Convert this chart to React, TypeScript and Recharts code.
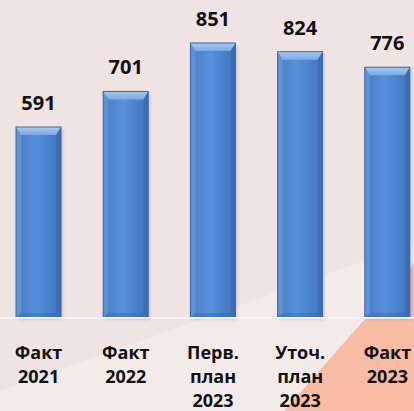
import React from 'react';
import { BarChart, Bar, XAxis, YAxis, LabelList } from 'recharts';

const categories = ['Факт\n2021', 'Факт\n2022', 'Перв.\nплан\n2023', 'Уточ.\nплан\n2023', 'Факт\n2023'];
const values = [591, 701, 851, 824, 776];

const FONT = '"Open Sans", "Liberation Sans", sans-serif';

// bevelled blue column, like the original office chart
function BevelBar(props: any) {
    const { x, y, width, height } = props;
    if (!height || height <= 0) return null;
    const b = 8;
    const s = 5;
    const bottom = y + height;
    return (
        <g>
            <rect x={x + 2} y={y + 2} width={width} height={height} fill="#000" opacity={0.12} filter="url(#barBlur)" />
            <rect x={x} y={y} width={width} height={height} fill="url(#barBody)" />
            <polygon points={`${x},${y} ${x + s},${y + b} ${x + s},${bottom - s} ${x},${bottom}`} fill="#78a6e4" opacity={0.45} />
            <polygon points={`${x + width},${y} ${x + width - s},${y + b} ${x + width - s},${bottom - s} ${x + width},${bottom}`} fill="#2f5a96" opacity={0.3} />
            <polygon points={`${x},${bottom} ${x + s},${bottom - s} ${x + width - s},${bottom - s} ${x + width},${bottom}`} fill="#2f5a96" opacity={0.3} />
            <polygon points={`${x},${y} ${x + width},${y} ${x + width - s},${y + b} ${x + s},${y + b}`} fill="url(#barTop)" />
            <rect x={x} y={y} width={width} height={height} fill="none" stroke="#3a67a8" strokeWidth={1} />
        </g>
    );
}

function CategoryTick(props: any) {
    const { x, y, payload } = props;
    const lines = String(payload.value).split('\n');
    return (
        <g>
            {lines.map((line, i) => (
                <text
                    key={i}
                    x={x}
                    y={y + 33 + i * 24}
                    textAnchor="middle"
                    fontFamily={FONT}
                    fontWeight={700}
                    fontSize={18}
                    fill="#111"
                >
                    {line}
                </text>
            ))}
        </g>
    );
}

function ValueLabel(props: any) {
    const { x, y, width, value } = props;
    return (
        <text x={x + width / 2} y={y - 17} textAnchor="middle" fontFamily={FONT} fontWeight={700} fontSize={20} fill="#111">
            {value}
        </text>
    );
}

export default function App() {
    const data = categories.map((name, i) => ({ name, value: values[i] }));

    return (
        <div style={{ position: 'absolute', left: 0, top: 0, width: 414, height: 411, overflow: 'hidden', background: '#efe3e3' }}>
            <svg width={414} height={411} style={{ position: 'absolute', left: 0, top: 0 }}>
                <polygon points="0,391 414,243 414,411 0,411" fill="#f3ebea" />
                <polygon points="284,411 414,263 414,411" fill="#f8bba3" />
            </svg>
            <div style={{ position: 'absolute', left: -5, top: 0 }}>
                <BarChart width={436} height={411} data={data} margin={{ top: 0, right: 0, bottom: 0, left: 0 }} barSize={45}>
                    <defs>
                        <linearGradient id="barBody" x1="0" y1="0" x2="1" y2="0">
                            <stop offset="0%" stopColor="#4a7fc6" />
                            <stop offset="45%" stopColor="#5690da" />
                            <stop offset="100%" stopColor="#3f74bd" />
                        </linearGradient>
                        <linearGradient id="barTop" x1="0" y1="0" x2="0" y2="1">
                            <stop offset="0%" stopColor="#a9cbf3" />
                            <stop offset="100%" stopColor="#7aa7e3" />
                        </linearGradient>
                        <filter id="barBlur" x="-20%" y="-5%" width="140%" height="110%">
                            <feGaussianBlur stdDeviation="1.5" />
                        </filter>
                    </defs>
                    <XAxis
                        dataKey="name"
                        height={93}
                        interval={0}
                        tickLine={false}
                        axisLine={{ stroke: '#f7f1f1', strokeWidth: 2 }}
                        tick={<CategoryTick />}
                    />
                    <YAxis hide domain={[0, 984]} />
                    <Bar dataKey="value" shape={<BevelBar />} isAnimationActive={false}>
                        <LabelList dataKey="value" content={<ValueLabel />} />
                    </Bar>
                </BarChart>
            </div>
        </div>
    );
}
